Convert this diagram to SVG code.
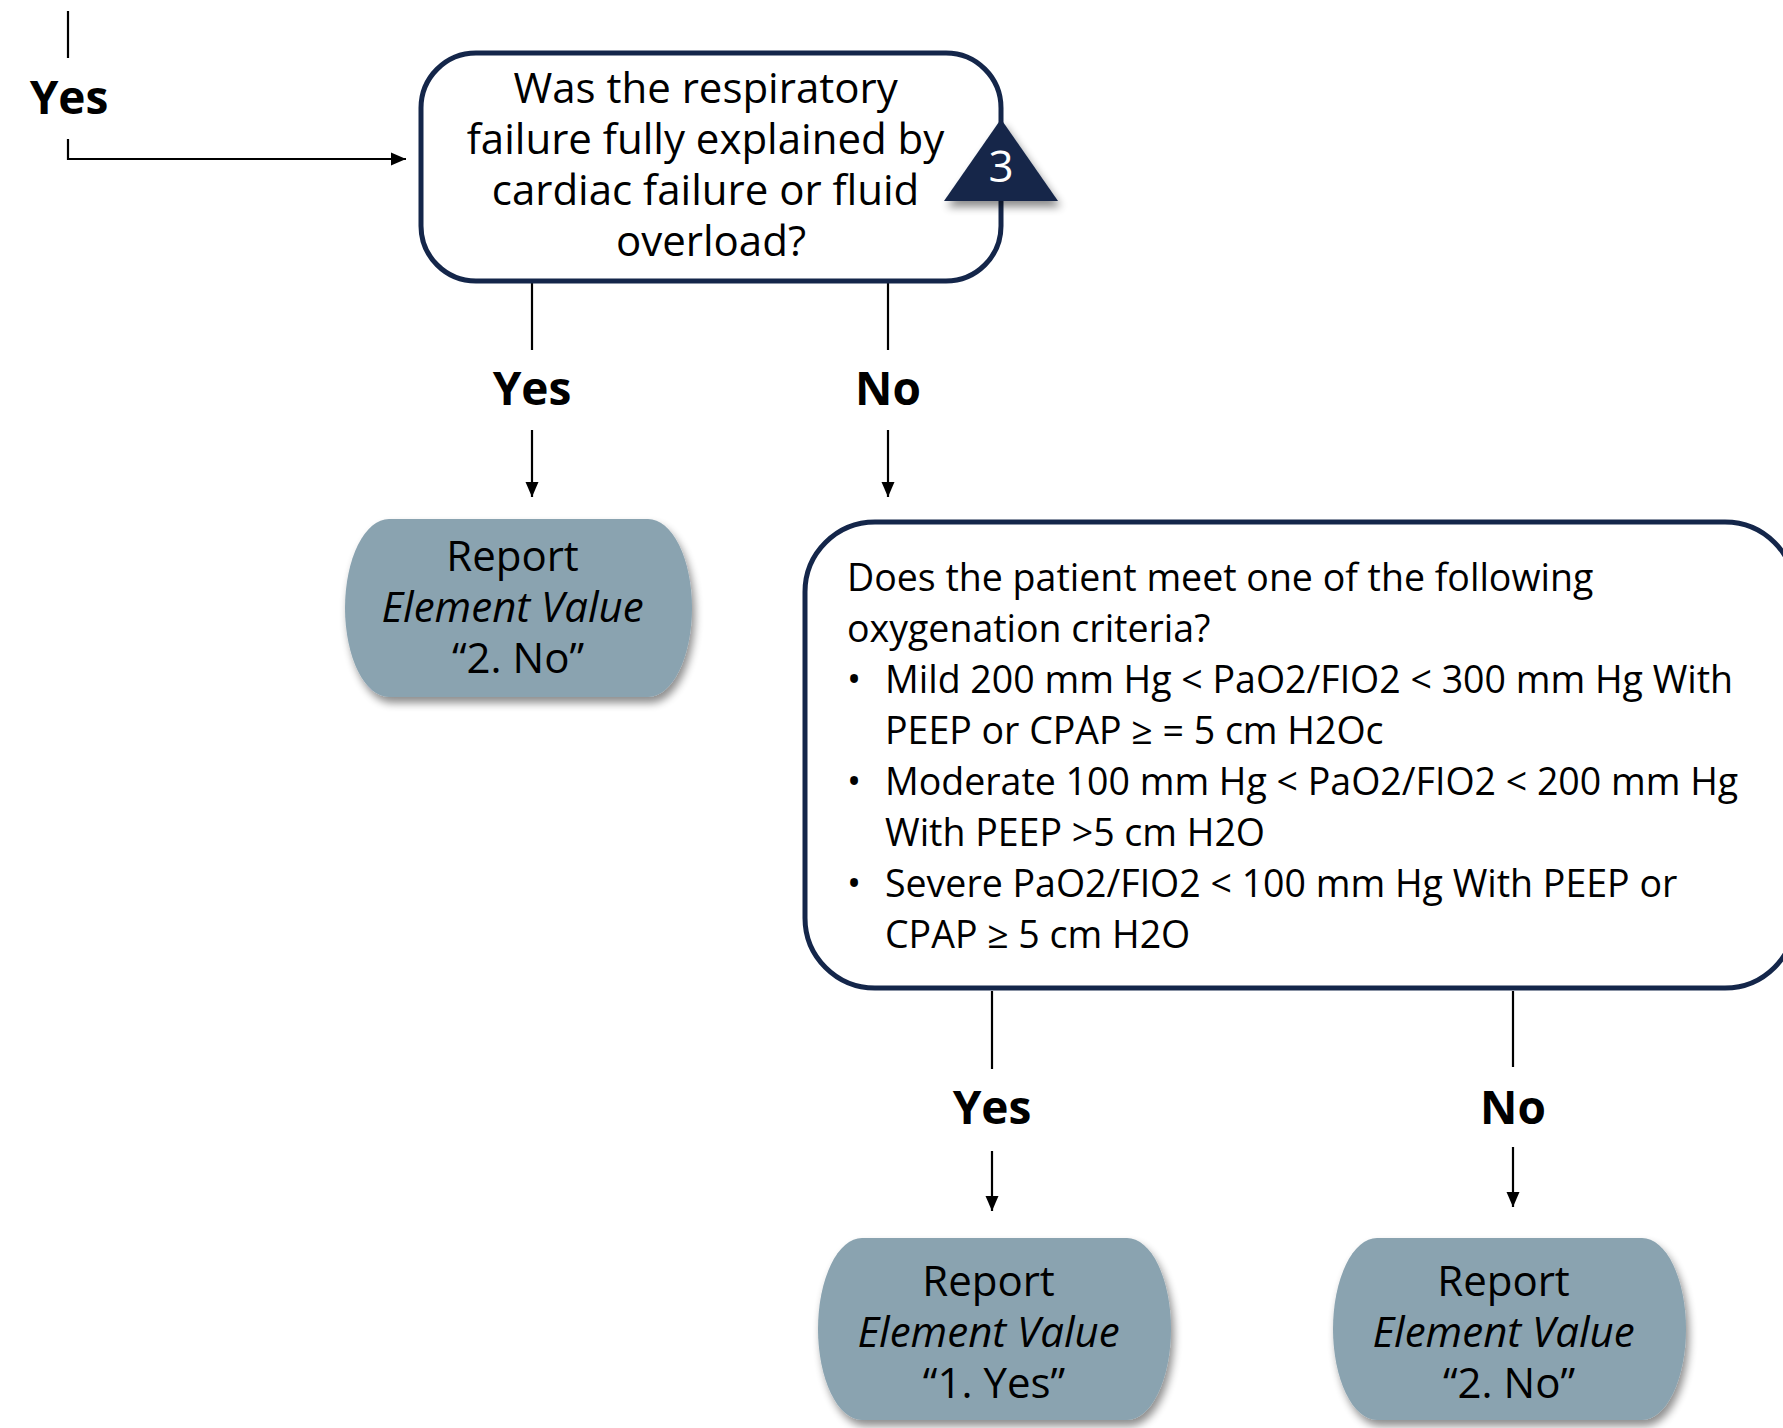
<svg xmlns="http://www.w3.org/2000/svg" width="1783" height="1428" viewBox="0 0 1783 1428">
  <style>
    .t { font-family: "Open Sans", "Liberation Sans", sans-serif; fill: #000; }
    .q1 { font-size: 42px; }
    .q2 { font-size: 37.5px; }
    .lbl { font-size: 46px; font-weight: bold; text-anchor: middle; }
    .rep { font-size: 42px; text-anchor: middle; }
    .decision { fill: #fff; stroke: #14264a; stroke-width: 5; }
    .report { fill: #8aa3b0; filter: url(#shadow); }
    .wire { fill: none; stroke: #000; stroke-width: 2.2; }
  </style>
  <defs>
    <marker id="arrow" markerUnits="userSpaceOnUse" markerWidth="16" markerHeight="16" refX="15" refY="8" orient="auto">
      <path d="M0,1.5 L15,8 L0,14.5 Z" fill="#000"/>
    </marker>
    <filter id="shadow" x="-10%" y="-10%" width="125%" height="130%">
      <feGaussianBlur in="SourceAlpha" stdDeviation="4"/>
      <feOffset dx="3" dy="6" result="b"/>
      <feComponentTransfer><feFuncA type="linear" slope="0.45"/></feComponentTransfer>
      <feMerge><feMergeNode/><feMergeNode in="SourceGraphic"/></feMerge>
    </filter>
  </defs>

  <!-- connectors -->
  <g id="connectors">
    <line class="wire" x1="68" y1="11" x2="68" y2="58"/>
    <polyline class="wire" points="68,139 68,159 406,159" marker-end="url(#arrow)"/>
    <line class="wire" x1="532" y1="283" x2="532" y2="350"/>
    <line class="wire" x1="888" y1="283" x2="888" y2="350"/>
    <line class="wire" x1="532" y1="430" x2="532" y2="497" marker-end="url(#arrow)"/>
    <line class="wire" x1="888" y1="430" x2="888" y2="497" marker-end="url(#arrow)"/>
    <line class="wire" x1="992" y1="991" x2="992" y2="1069"/>
    <line class="wire" x1="1513" y1="991" x2="1513" y2="1067"/>
    <line class="wire" x1="992" y1="1151" x2="992" y2="1211" marker-end="url(#arrow)"/>
    <line class="wire" x1="1513" y1="1147" x2="1513" y2="1207" marker-end="url(#arrow)"/>
  </g>

  <!-- branch labels -->
  <g id="labels">
    <text class="t lbl" x="69" y="114">Yes</text>
    <text class="t lbl" x="532" y="405">Yes</text>
    <text class="t lbl" x="888" y="405">No</text>
    <text class="t lbl" x="992" y="1124">Yes</text>
    <text class="t lbl" x="1513" y="1124">No</text>
  </g>

  <!-- decision: cardiac explanation -->
  <g id="decision-cardiac">
    <rect class="decision" x="421" y="53" width="580" height="228" rx="55"/>
    <text class="t q1" text-anchor="middle">
      <tspan x="711" y="103">Was the respiratory</tspan>
      <tspan x="711" y="154">failure fully explained by</tspan>
      <tspan x="711" y="205">cardiac failure or fluid</tspan>
      <tspan x="711" y="256">overload?</tspan>
    </text>
  </g>

  <!-- note marker 3 -->
  <g id="note-3">
    <polygon points="1001,119 944,201 1058,201" fill="#14264a" filter="url(#shadow)"/>
    <text class="t" x="1001" y="182" font-size="44" style="fill:#fff" text-anchor="middle">3</text>
  </g>

  <!-- report: 2. No (cardiac) -->
  <g id="report-no-1">
    <rect class="report" x="345" y="519" width="347" height="178" rx="44" ry="89"/>
    <text class="t rep">
      <tspan x="518" y="571">Report</tspan>
      <tspan x="518" y="622" font-style="italic">Element Value</tspan>
      <tspan x="518" y="673">“2. No”</tspan>
    </text>
  </g>

  <!-- decision: oxygenation criteria -->
  <g id="decision-oxygenation">
    <rect class="decision" x="805" y="522" width="990" height="466" rx="70"/>
    <text class="t q2">
      <tspan x="847" y="591">Does the patient meet one of the following</tspan>
      <tspan x="847" y="642">oxygenation criteria?</tspan>
      <tspan x="847" y="693">•</tspan><tspan x="885" y="693">Mild 200 mm Hg &lt; PaO2/FIO2 &lt; 300 mm Hg With</tspan>
      <tspan x="885" y="744">PEEP or CPAP ≥ = 5 cm H2Oc</tspan>
      <tspan x="847" y="795">•</tspan><tspan x="885" y="795">Moderate 100 mm Hg &lt; PaO2/FIO2 &lt; 200 mm Hg</tspan>
      <tspan x="885" y="846">With PEEP &gt;5 cm H2O</tspan>
      <tspan x="847" y="897">•</tspan><tspan x="885" y="897">Severe PaO2/FIO2 &lt; 100 mm Hg With PEEP or</tspan>
      <tspan x="885" y="948">CPAP ≥ 5 cm H2O</tspan>
    </text>
  </g>

  <!-- report: 1. Yes -->
  <g id="report-yes">
    <rect class="report" x="818" y="1238" width="353" height="182" rx="44" ry="91"/>
    <text class="t rep">
      <tspan x="994" y="1296">Report</tspan>
      <tspan x="994" y="1347" font-style="italic">Element Value</tspan>
      <tspan x="994" y="1398">“1. Yes”</tspan>
    </text>
  </g>

  <!-- report: 2. No (oxygenation) -->
  <g id="report-no-2">
    <rect class="report" x="1333" y="1238" width="353" height="182" rx="44" ry="91"/>
    <text class="t rep">
      <tspan x="1509" y="1296">Report</tspan>
      <tspan x="1509" y="1347" font-style="italic">Element Value</tspan>
      <tspan x="1509" y="1398">“2. No”</tspan>
    </text>
  </g>
</svg>
